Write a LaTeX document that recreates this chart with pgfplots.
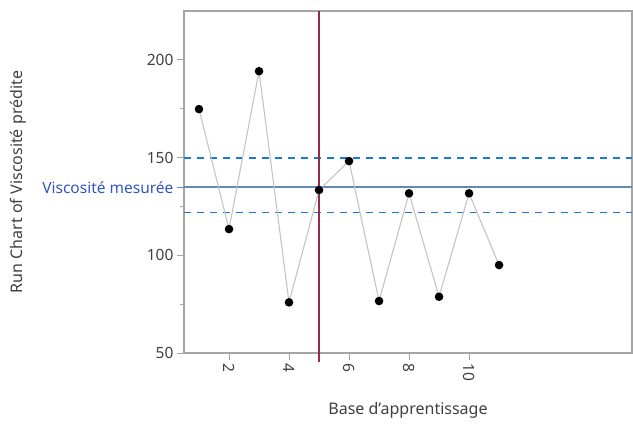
\documentclass[border=0pt]{standalone}
\usepackage{pgfplots}
\pgfplotsset{compat=1.18}
\usepackage{fontspec}
\setmainfont{Noto Sans}
\definecolor{axisgray}{HTML}{A5A5A5}
\definecolor{textgray}{HTML}{404040}
\definecolor{runline}{HTML}{C4C4C4}
\definecolor{centerblue}{HTML}{6688B0}
\definecolor{limitblue}{HTML}{1A78D6}
\definecolor{labelblue}{HTML}{3355C0}
\definecolor{cutred}{HTML}{952A4A}

\pgfplotstableread{
x y
1 174.8
2 113.4
3 194.2
4 75.9
5 133.4
6 148.2
7 76.6
8 131.7
9 78.8
10 131.7
11 95.0
}\runtable

\begin{document}
\begin{tikzpicture}[x=1pt,y=1pt]
\path[use as bounding box] (0,0) rectangle (633,424);
\begin{axis}[
  at={(184pt,71pt)}, anchor=south west,
  scale only axis, width=448pt, height=342pt,
  xmin=0.5, xmax=15.43, ymin=50, ymax=225,
  /pgf/number format/assume math mode=true,
  axis line style={axisgray, line width=1.3pt},
  tick style={axisgray, line width=1pt},
  tick align=outside,
  xtick pos=bottom, ytick pos=left,
  major tick length=7pt, minor tick length=4pt,
  xtick={2,4,6,8,10},
  ytick={50,100,150,200},
  minor ytick={75,125,175},
  extra y ticks={134.8},
  extra y tick labels={Viscosité mesurée},
  extra y tick style={tick style={centerblue, line width=1.2pt}, yticklabel style={labelblue}},
  xticklabel style={rotate=-90, anchor=west, font=\fontsize{15.5}{17}\selectfont, text=textgray},
  yticklabel style={font=\fontsize{15.5}{17}\selectfont, text=textgray},
  xlabel={Base d'apprentissage},
  ylabel={Run Chart of Viscosité prédite},
  xlabel style={at={(axis description cs:0.5,-0.167)}, anchor=center, font=\fontsize{16}{18}\selectfont, text=textgray},
  ylabel style={at={(axis description cs:-0.37,0.5)}, anchor=center, rotate=0, font=\fontsize{16}{18}\selectfont, text=textgray},
  clip=false,
]
% control limits around the centre line
\addplot[limitblue, line width=1.8pt, dash pattern=on 7pt off 6pt] coordinates {(0.5,149.6) (15.43,149.6)};
\addplot[limitblue, line width=1.8pt, dash pattern=on 7pt off 6pt] coordinates {(0.5,121.9) (15.43,121.9)};
% centre line (measured viscosity)
\addplot[centerblue, line width=2.2pt] coordinates {(0.5,134.8) (15.43,134.8)};
% split between the two phases
\draw[cutred, line width=1.5pt] (axis cs:5,225) -- (axis cs:5,50) -- ([yshift=-9pt]axis cs:5,50);
% run of predicted values
\addplot[runline, line width=1.1pt, mark=*, mark size=3.7pt,
  mark options={fill=black, draw=black}] table[x=x, y=y] {\runtable};
\end{axis}
\end{tikzpicture}
\end{document}
